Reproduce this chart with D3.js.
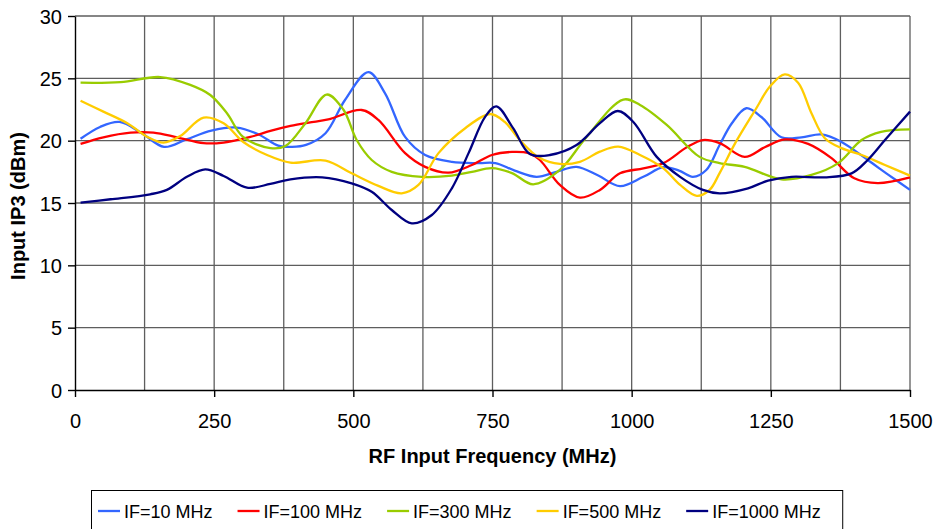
<!DOCTYPE html>
<html>
<head>
<meta charset="utf-8">
<script src="https://cdn.jsdelivr.net/npm/d3@7"></script>
<style>
  html, body { margin: 0; padding: 0; background: #fff; }
  svg { display: block; font-family: "Liberation Sans", Arial, sans-serif; }
</style>
</head>
<body>
<svg id="chart" width="934" height="529"></svg>
<script>
// ---- data ----
const seriesNames = ["IF=10 MHz", "IF=100 MHz", "IF=300 MHz", "IF=500 MHz", "IF=1000 MHz"];
const seriesColors = ["#3366FF", "#FF0000", "#99CC00", "#FFCC00", "#000080"];

const if10Freq = [10,45,80,120,160,200,245,290,330,365,390,415,450,485,527,557,593,629,677,725,755,790,829,865,901,940,979,1021,1057,1085,1110,1134,1158,1180,1206,1233,1269,1305,1341,1377,1424,1460,1500];
const if10Ip3  = [20.15,21.1,21.5,20.6,19.5,20.1,20.8,21.05,20.5,19.6,19.5,19.66,20.6,23.26,25.5,23.8,20.3,18.85,18.3,18.2,18.2,17.6,17.1,17.5,17.9,17.2,16.35,17.1,17.87,17.6,17.1,17.65,19.65,21.4,22.6,21.9,20.27,20.27,20.5,19.9,18.45,17.3,16.05];

const if100Freq = [10,51,100,141,183,231,267,315,351,387,420,455,515,545,593,629,671,713,749,785,815,835,871,907,943,979,1021,1057,1099,1128,1158,1203,1239,1275,1317,1359,1400,1442,1500];
const if100Ip3  = [19.74,20.27,20.64,20.64,20.27,19.8,19.85,20.3,20.78,21.18,21.45,21.7,22.46,21.66,19.0,17.9,17.43,18.05,18.85,19.1,19.0,18.45,16.45,15.43,16.05,17.38,17.78,18.2,19.47,20.05,19.8,18.7,19.47,20.1,19.74,18.6,16.98,16.6,17.06];

const if300Freq = [10,82,153,207,243,273,302,351,378,414,452,482,506,533,569,623,677,713,749,785,823,871,919,985,1015,1063,1122,1158,1203,1269,1323,1371,1413,1448,1500];
const if300Ip3  = [24.65,24.7,25.1,24.47,23.66,22.2,20.3,19.4,19.57,21.4,23.7,22.5,20.05,18.45,17.5,17.1,17.2,17.5,17.8,17.4,16.5,17.65,20.3,23.3,22.86,21.26,18.7,18.2,17.9,16.9,17.25,18.2,20.05,20.7,20.9];

const if500Freq = [10,51,94,130,159,189,231,267,303,345,387,450,497,545,587,617,653,701,746,772,799,835,871,907,943,976,1015,1057,1087,1117,1140,1158,1186,1222,1249,1275,1299,1323,1347,1377,1413,1455,1500];
const if500Ip3  = [23.2,22.33,21.4,20.3,19.84,20.37,21.85,21.4,19.87,18.85,18.24,18.4,17.38,16.37,15.78,16.45,19.0,21.0,22.14,21.5,20.05,18.6,18.13,18.3,19.12,19.52,18.85,17.78,16.45,15.57,16.05,17.4,19.8,22.46,24.38,25.32,24.65,22.2,20.2,19.4,18.85,18.05,17.2];

const if1000Freq = [10,64,135,165,201,234,267,309,351,387,444,497,533,569,605,641,677,707,737,757,787,817,853,901,943,975,1003,1045,1087,1128,1158,1209,1245,1287,1347,1395,1424,1455,1500];
const if1000Ip3  = [15.03,15.3,15.7,16.05,17.1,17.7,17.17,16.23,16.53,16.9,17.06,16.58,15.9,14.44,13.37,14.04,16.18,19.0,21.93,22.75,21.0,18.93,18.85,19.65,21.4,22.38,21.5,18.7,17.1,16.05,15.78,16.18,16.8,17.1,17.06,17.38,18.45,20.05,22.33];

const xTicks = [0, 250, 500, 750, 1000, 1250, 1500];
const xGrid = [125, 250, 375, 500, 625, 750, 875, 1000, 1125, 1250, 1375, 1500];
const yTicks = [0, 5, 10, 15, 20, 25, 30];

const seriesFreqs = [if10Freq, if100Freq, if300Freq, if500Freq, if1000Freq];
const seriesVals  = [if10Ip3, if100Ip3, if300Ip3, if500Ip3, if1000Ip3];

// ---- layout ----
const svg = d3.select("#chart");
const plotLeft = 75, plotRight = 910, plotTop = 16, plotBottom = 390;

const x = d3.scaleLinear().domain([0, 1500]).range([plotLeft, plotRight]);
const y = d3.scaleLinear().domain([0, 30]).range([plotBottom, plotTop]);

const gridColor = "#5e5e5e";

// horizontal grid
svg.append("g").selectAll("line").data(yTicks.filter(d => d > 0)).join("line")
  .attr("x1", plotLeft).attr("x2", plotRight)
  .attr("y1", d => y(d)).attr("y2", d => y(d))
  .attr("stroke", gridColor).attr("stroke-width", 1.4);

// vertical grid
svg.append("g").selectAll("line").data(xGrid).join("line")
  .attr("x1", d => x(d)).attr("x2", d => x(d))
  .attr("y1", plotTop).attr("y2", plotBottom)
  .attr("stroke", gridColor).attr("stroke-width", 1.3);

// axes
const xAxis = svg.append("g").attr("transform", `translate(0,${plotBottom})`)
  .call(d3.axisBottom(x).tickValues(xTicks).tickSize(7).tickSizeOuter(0).tickFormat(d3.format("d")));
xAxis.select(".domain").attr("stroke", "#000").attr("stroke-width", 1.4);
xAxis.selectAll(".tick line").attr("stroke", "#000").attr("stroke-width", 1.4);
xAxis.selectAll(".tick text").attr("y", 38).attr("dy", 0)
  .style("font-size", "20px").style("font-family", "Liberation Sans, Arial, sans-serif").attr("fill", "#000");

const yAxis = svg.append("g").attr("transform", `translate(${plotLeft},0)`)
  .call(d3.axisLeft(y).tickValues(yTicks).tickSize(7).tickSizeOuter(0).tickFormat(d3.format("d")));
yAxis.select(".domain").attr("stroke", "#000").attr("stroke-width", 1.4);
yAxis.selectAll(".tick line").attr("stroke", "#000").attr("stroke-width", 1.4);
yAxis.selectAll(".tick text").attr("x", -13).attr("dy", "0.36em")
  .style("font-size", "20px").style("font-family", "Liberation Sans, Arial, sans-serif").attr("fill", "#000");

// lines
const line = d3.line()
  .x(d => x(d[0])).y(d => y(d[1]))
  .curve(d3.curveCatmullRom.alpha(0.5));

seriesNames.forEach((name, i) => {
  const pts = seriesFreqs[i].map((f, j) => [f, seriesVals[i][j]]);
  svg.append("path")
    .datum(pts)
    .attr("d", line)
    .attr("fill", "none")
    .attr("stroke", seriesColors[i])
    .attr("stroke-width", 2.3)
    .attr("stroke-linejoin", "round");
});

// axis titles
svg.append("text")
  .attr("x", (plotLeft + plotRight) / 2).attr("y", 463)
  .attr("text-anchor", "middle")
  .style("font-size", "20px").style("font-weight", "bold")
  .text("RF Input Frequency (MHz)");

svg.append("text")
  .attr("transform", `translate(25,206) rotate(-90)`)
  .attr("text-anchor", "middle")
  .style("font-size", "20px").style("font-weight", "bold")
  .text("Input IP3 (dBm)");

// legend
const legend = svg.append("g");
const legBox = legend.append("rect")
  .attr("x", 91.5).attr("y", 490.5).attr("height", 50)
  .attr("fill", "#fff").attr("stroke", "#000").attr("stroke-width", 1);
let lx = 98;
seriesNames.forEach((name, i) => {
  legend.append("line")
    .attr("x1", lx).attr("x2", lx + 22)
    .attr("y1", 511).attr("y2", 511)
    .attr("stroke", seriesColors[i]).attr("stroke-width", 2.3);
  const t = legend.append("text")
    .attr("x", lx + 26).attr("y", 518)
    .style("font-size", "18px")
    .text(name);
  lx += 26 + t.node().getComputedTextLength() + 25;
});
legBox.attr("width", lx - 25 + 22 - 91.5);
</script>
</body>
</html>
